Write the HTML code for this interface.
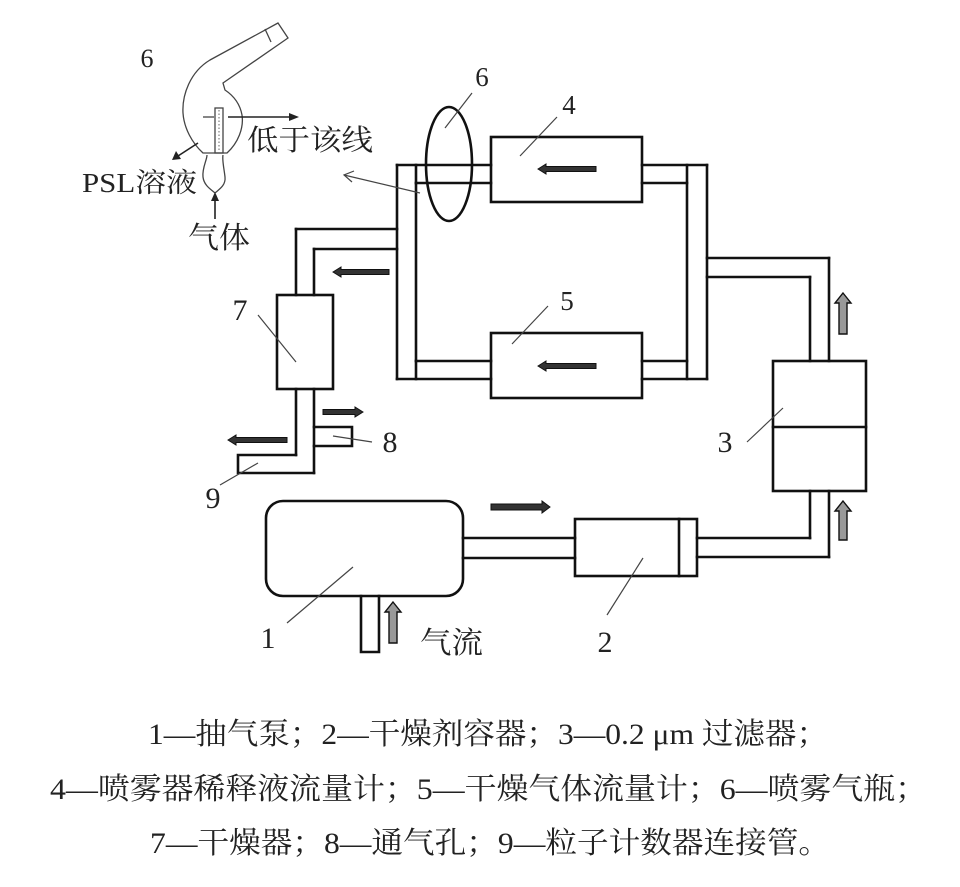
<!DOCTYPE html>
<html>
<head>
<meta charset="utf-8">
<style>
html,body{margin:0;padding:0;background:#fff;}
svg{display:block;}
text{font-family:"Liberation Serif","Noto Serif CJK SC",serif;fill:#222;}
</style>
</head>
<body>
<svg width="960" height="887" viewBox="0 0 960 887" xmlns="http://www.w3.org/2000/svg">
<rect x="0" y="0" width="960" height="887" fill="#fff"/>

<g stroke="#111" stroke-width="2.6" fill="none" stroke-linecap="square">
  <!-- left manifold bar -->
  <line x1="397" y1="165" x2="397" y2="379"/>
  <line x1="416" y1="183" x2="416" y2="361"/>
  <line x1="397" y1="165" x2="491" y2="165"/>
  <line x1="416" y1="183" x2="491" y2="183"/>
  <line x1="416" y1="361" x2="491" y2="361"/>
  <line x1="397" y1="379" x2="491" y2="379"/>
  <line x1="416" y1="165" x2="416" y2="183"/>
  <line x1="416" y1="361" x2="416" y2="379"/>
  <!-- right manifold bar -->
  <line x1="707" y1="165" x2="707" y2="379"/>
  <line x1="687" y1="165" x2="687" y2="379"/>
  <line x1="642" y1="165" x2="707" y2="165"/>
  <line x1="642" y1="183" x2="687" y2="183"/>
  <line x1="642" y1="361" x2="687" y2="361"/>
  <line x1="642" y1="379" x2="707" y2="379"/>
  <!-- box 4 & 5 -->
  <rect x="491" y="137" width="151" height="65"/>
  <rect x="491" y="333" width="151" height="65"/>
  <!-- pipe to filter -->
  <line x1="707" y1="258" x2="829" y2="258"/>
  <line x1="707" y1="277" x2="810" y2="277"/>
  <line x1="829" y1="258" x2="829" y2="361"/>
  <line x1="810" y1="277" x2="810" y2="361"/>
  <!-- filter 3 -->
  <rect x="773" y="361" width="93" height="130"/>
  <line x1="773" y1="427" x2="866" y2="427"/>
  <!-- pipe below filter -->
  <line x1="810" y1="491" x2="810" y2="538"/>
  <line x1="829" y1="491" x2="829" y2="557"/>
  <line x1="697" y1="538" x2="810" y2="538"/>
  <line x1="697" y1="557" x2="829" y2="557"/>
  <!-- box 2 -->
  <rect x="575" y="519" width="122" height="57"/>
  <line x1="679" y1="519" x2="679" y2="576"/>
  <!-- pump pipe -->
  <line x1="463" y1="538" x2="575" y2="538"/>
  <line x1="463" y1="558" x2="575" y2="558"/>
  <!-- pump -->
  <rect x="266" y="501" width="197" height="95" rx="17" ry="17"/>
  <!-- inlet -->
  <polyline points="361,596 361,652 379,652 379,596"/>
  <!-- pipe left bar to dryer 7 -->
  <line x1="296" y1="229" x2="397" y2="229"/>
  <line x1="314" y1="249" x2="397" y2="249"/>
  <line x1="296" y1="229" x2="296" y2="295"/>
  <line x1="314" y1="249" x2="314" y2="295"/>
  <!-- dryer 7 -->
  <rect x="277" y="295" width="56" height="94"/>
  <!-- below dryer -->
  <line x1="296" y1="389" x2="296" y2="455"/>
  <line x1="314" y1="389" x2="314" y2="473"/>
  <!-- vent 8 -->
  <polyline points="314,427 352,427 352,446 314,446"/>
  <!-- outlet 9 -->
  <polyline points="296,455 238,455 238,473 314,473"/>
</g>

<!-- ellipse 6 -->
<ellipse cx="449" cy="164" rx="23" ry="57" fill="none" stroke="#111" stroke-width="2.6"/>

<!-- thick dark arrows -->
<g fill="#333" stroke="#111" stroke-width="1">
  <polygon points="333,272 341,267 341,269.5 389,269.5 389,274.5 341,274.5 341,277"/>
  <polygon points="538,169 546,164 546,166.5 596,166.5 596,171.5 546,171.5 546,174"/>
  <polygon points="538,366 546,361 546,363.5 596,363.5 596,368.5 546,368.5 546,371"/>
  <polygon points="363,412 355,407 355,409.5 323,409.5 323,414.5 355,414.5 355,417"/>
  <polygon points="228,440 236,435 236,437.5 287,437.5 287,442.5 236,442.5 236,445"/>
  <polygon points="550,507 542,501 542,504 491,504 491,510 542,510 542,513"/>
</g>

<!-- hollow up arrows -->
<g fill="#999" stroke="#111" stroke-width="1.4">
  <polygon points="843,293 851,303 847,303 847,334 839,334 839,303 835,303"/>
  <polygon points="843,501 851,511 847,511 847,540 839,540 839,511 835,511"/>
  <polygon points="393,602 401,612 397,612 397,643 389,643 389,612 385,612"/>
</g>

<!-- leader lines -->
<g stroke="#444" stroke-width="1.2" fill="none">
  <line x1="472" y1="93" x2="445" y2="128"/>
  <line x1="557" y1="117" x2="520" y2="156"/>
  <line x1="548" y1="306" x2="512" y2="344"/>
  <line x1="747" y1="442" x2="783" y2="408"/>
  <line x1="287" y1="623" x2="353" y2="567"/>
  <line x1="607" y1="615" x2="643" y2="558"/>
  <line x1="258" y1="315" x2="296" y2="362"/>
  <line x1="333" y1="436" x2="372" y2="442"/>
  <line x1="220" y1="485" x2="258" y2="463"/>
  <line x1="420" y1="193" x2="344" y2="175"/>
  <polyline points="354,171 344,175 352,182"/>
</g>

<!-- bottle -->
<g stroke="#444" stroke-width="1.3" fill="none">
  <path d="M278,23 L210,60 C190,72 182,95 183,113 C184,128 192,143 203,153 L227,153 C238,143 244,128 242,115 C240,104 234,96 225,90 L223,83 L288,38 Z"/>
  <line x1="265" y1="29" x2="271" y2="42"/>
  <path d="M207,155 C207,160 202,168 203,177 C204,186 212,190 215,193 C218,190 226,186 225,177 C224,168 222,160 223,155"/>
  <rect x="215" y="108" width="8" height="45" stroke="#444"/>
  <line x1="203" y1="117" x2="214" y2="117"/>
</g>
<g stroke="#666" stroke-width="1" stroke-dasharray="1.5 2">
  <line x1="219" y1="110" x2="219" y2="151"/>
</g>
<g stroke="#222" stroke-width="1.6" fill="none">
  <line x1="228" y1="117" x2="292" y2="117"/>
  <line x1="198" y1="143" x2="178" y2="156"/>
  <line x1="215" y1="219" x2="215" y2="198"/>
</g>
<g fill="#222">
  <polygon points="299,117 289,113 289,121"/>
  <polygon points="172,160 176,151 181,159"/>
  <polygon points="215,192 211,201 219,201"/>
</g>

<!-- diagram labels -->
<g font-size="26">
  <text x="147" y="67" text-anchor="middle">6</text>
</g>
<g font-size="27">
  <text x="482" y="86" text-anchor="middle">6</text>
  <text x="569" y="114" text-anchor="middle">4</text>
  <text x="567" y="310" text-anchor="middle">5</text>
</g>
<g font-size="30">
  <text x="725" y="452" text-anchor="middle">3</text>
  <text x="268" y="648" text-anchor="middle">1</text>
  <text x="605" y="652" text-anchor="middle">2</text>
  <text x="240" y="320" text-anchor="middle">7</text>
  <text x="390" y="452" text-anchor="middle">8</text>
  <text x="213" y="508" text-anchor="middle">9</text>
</g>

<text x="247" y="150" font-size="29" textLength="126" lengthAdjust="spacingAndGlyphs">低于该线</text>
<text x="82" y="192" font-size="27" textLength="115" lengthAdjust="spacingAndGlyphs">PSL溶液</text>
<text x="188" y="248" font-size="30" textLength="62" lengthAdjust="spacingAndGlyphs">气体</text>
<text x="420" y="653" font-size="30" textLength="63" lengthAdjust="spacingAndGlyphs">气流</text>

<!-- caption -->
<g font-size="30">
  <text x="148" y="744" textLength="680" lengthAdjust="spacingAndGlyphs">1—抽气泵；2—干燥剂容器；3—0.2 μm 过滤器；</text>
  <text x="50" y="799" textLength="877" lengthAdjust="spacingAndGlyphs">4—喷雾器稀释液流量计；5—干燥气体流量计；6—喷雾气瓶；</text>
  <text x="150" y="853" textLength="680" lengthAdjust="spacingAndGlyphs">7—干燥器；8—通气孔；9—粒子计数器连接管。</text>
</g>
</svg>
</body>
</html>
